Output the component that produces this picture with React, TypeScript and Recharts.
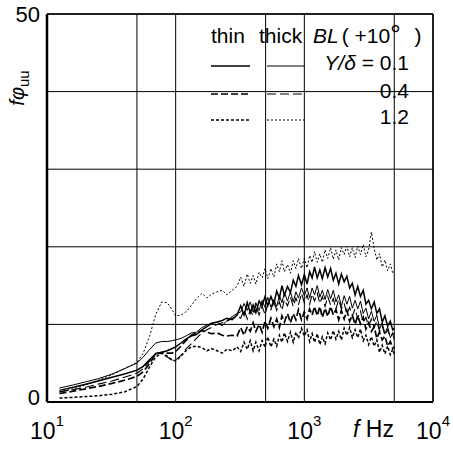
import { LineChart, Line, XAxis, YAxis, CartesianGrid, Legend, ReferenceLine } from 'recharts'

// frequency grid (Hz) shared by all six spectra
const FREQ = [
  12.5, 16, 20, 25, 32, 40, 50, 56, 63, 70,
  78, 86, 94, 100, 110, 120, 132, 145, 160, 175,
  190, 210, 230, 250, 275, 300,
  320, 340, 360, 380, 400, 420, 445, 470, 495, 520,
  550, 580, 610, 640, 670, 700, 740, 780, 820, 860,
  900, 950, 1000, 1050, 1100, 1150, 1200, 1260, 1320, 1380,
  1450, 1520, 1600, 1680, 1760, 1850, 1940, 2040, 2140, 2250,
  2360, 2480, 2600, 2730, 2870, 3010, 3160, 3320, 3490, 3660,
  3840, 4030, 4230, 4440, 4660, 4860, 5000,
]

// thin BL, Y/delta = 0.1
const THIN_01 = [
  1.5, 1.9, 2.3, 2.7, 3.2, 3.6, 4.1, 4.6, 5.5, 6.2,
  6.4, 6.6, 6.9, 7.1, 7.6, 8.1, 8.5, 8.7, 9.3, 9.7,
  10.1, 10.3, 10.5, 10.8, 10.6, 11.2,
  12.4, 11.2, 12.8, 11.5, 12.5, 11.5, 13.0, 12.4, 13.6, 12.4,
  13.6, 12.6, 14.3, 13.4, 15.0, 13.8, 14.9, 14.1, 15.7, 14.9,
  16.3, 15.1, 16.4, 15.2, 16.8, 16.0, 17.4, 16.0, 17.0, 15.9,
  17.3, 16.1, 17.2, 15.7, 16.6, 15.2, 16.5, 15.5, 16.2, 14.7,
  15.3, 13.8, 14.9, 13.6, 14.4, 12.6, 13.1, 12.0, 12.9, 11.4,
  12.0, 10.3, 11.1, 9.8, 10.4, 9.3, 9.5,
]

// thick BL, Y/delta = 0.1
const THICK_01 = [
  1.8, 2.2, 2.6, 3.0, 3.6, 4.3, 5.0, 5.8, 6.8, 7.6,
  7.8, 7.8, 7.9, 8.0, 8.2, 8.5, 8.9, 9.0, 9.6, 9.9,
  10.2, 10.3, 9.8, 10.5, 11.0, 11.4,
  11.6, 12.7, 11.8, 12.9, 11.6, 12.8, 11.8, 13.1, 12.2, 13.5,
  12.2, 13.2, 12.3, 13.7, 12.8, 14.1, 13.0, 14.2, 12.9, 14.2,
  13.4, 14.7, 13.7, 14.7, 13.4, 14.7, 13.8, 15.0, 13.5, 14.4,
  13.2, 14.5, 13.3, 14.4, 12.9, 13.8, 12.3, 13.7, 12.6, 13.6,
  12.1, 13.1, 12.0, 13.0, 11.4, 12.1, 10.7, 11.7, 10.4, 11.2,
  9.4, 10.2, 8.8, 9.7, 8.3, 8.8, 8.0,
]

// thin BL, Y/delta = 0.4
const THIN_04 = [
  1.1, 1.4, 1.7, 2.0, 2.4, 2.8, 3.3, 3.9, 5.0, 6.2,
  6.4, 6.3, 6.3, 6.5, 7.2, 7.9, 8.6, 8.9, 9.2, 9.0,
  8.8, 8.9, 8.6, 8.5, 8.6, 8.5,
  9.6, 8.6, 9.7, 9.1, 10.2, 9.1, 10.0, 9.0, 10.4, 9.5,
  10.8, 9.7, 10.7, 9.6, 11.1, 10.3, 11.4, 10.2, 11.4, 10.6,
  11.9, 10.6, 11.6, 10.7, 12.0, 11.2, 12.3, 11.1, 12.3, 10.9,
  12.1, 11.0, 12.3, 11.2, 11.9, 10.6, 11.8, 10.7, 11.8, 10.4,
  11.2, 10.0, 11.1, 10.1, 10.9, 9.4, 10.2, 9.1, 9.7, 8.2,
  9.0, 8.0, 8.5, 7.2, 7.8, 6.9, 7.1,
]

// thick BL, Y/delta = 0.4
const THICK_04 = [
  1.3, 1.6, 1.9, 2.3, 2.7, 3.2, 3.7, 4.3, 5.3, 6.3,
  6.2, 5.8, 5.4, 5.4, 6.0, 6.8, 7.5, 8.2, 8.9, 9.3,
  9.6, 10.0, 10.2, 10.4, 10.8, 11.0,
  10.8, 11.9, 10.7, 11.8, 11.1, 12.5, 11.2, 12.3, 11.3, 12.6,
  11.9, 13.0, 11.8, 12.9, 11.8, 13.2, 12.4, 13.5, 12.3, 13.4,
  12.5, 14.0, 12.8, 13.8, 12.6, 13.9, 13.0, 14.0, 12.7, 13.6,
  12.3, 13.6, 12.5, 13.3, 12.0, 13.2, 12.0, 12.7, 11.3, 12.2,
  11.1, 12.0, 10.8, 11.7, 10.3, 10.9, 9.8, 10.7, 9.6, 10.4,
  9.1, 9.8, 8.6, 9.3, 8.4, 8.9, 8.7,
]

// thin BL, Y/delta = 1.2
const THIN_12 = [
  0.5, 0.6, 0.7, 0.8, 1.0, 1.3, 2.0, 3.0, 4.6, 5.8,
  6.3, 5.9, 5.4, 5.3, 5.9, 6.6, 7.1, 7.2, 7.0, 6.6,
  6.9, 6.6, 6.3, 6.8, 6.6, 7.1,
  6.5, 7.7, 6.8, 7.9, 6.6, 7.7, 6.6, 7.9, 7.1, 8.4,
  7.1, 8.1, 7.2, 8.6, 7.7, 8.9, 7.8, 9.0, 7.7, 9.0,
  8.2, 9.5, 8.5, 9.3, 7.8, 8.8, 7.7, 8.8, 7.4, 8.4,
  7.5, 8.9, 8.0, 9.2, 8.1, 9.1, 8.0, 9.5, 8.6, 9.6,
  8.3, 9.3, 8.3, 9.4, 7.9, 8.6, 7.4, 8.4, 7.2, 8.0,
  6.4, 7.3, 6.2, 7.2, 6.1, 6.8, 6.2,
]

// thick BL, Y/delta = 1.2
const THICK_12 = [
  1.3, 1.7, 2.2, 2.8, 3.5, 4.3, 5.1, 6.3, 8.6, 11.3,
  12.9, 12.8, 11.9, 11.1, 11.2, 11.6, 12.4, 13.3, 14.0, 13.4,
  13.9, 14.2, 14.4, 13.8, 14.4, 14.9,
  16.1, 14.9, 16.5, 15.3, 16.3, 15.2, 16.7, 16.0, 17.2, 15.9,
  17.2, 16.1, 17.8, 16.8, 18.2, 16.8, 17.7, 16.6, 18.2, 17.2,
  18.5, 17.2, 18.5, 17.3, 18.9, 18.0, 19.4, 18.0, 19.1, 18.0,
  19.6, 18.5, 19.9, 18.4, 19.6, 18.3, 19.9, 19.0, 20.1, 18.7,
  19.9, 18.6, 20.1, 19.0, 20.3, 18.7, 19.6, 21.9, 19.8, 18.3,
  19.1, 17.4, 18.3, 16.9, 17.8, 16.6, 16.8,
]

const X_TICKS = [10, 50, 100, 500, 1000, 5000, 10000]
const Y_TICKS = [0, 10, 20, 30, 40, 50]
const Y_LABELLED = [0, 50]
const Y_DELTA = ['0.1', '0.4', '1.2']

const SERIES = [
  { key: 'thin01', values: THIN_01, width: 1.5, dash: undefined },
  { key: 'thick01', values: THICK_01, width: 1.0, dash: undefined },
  { key: 'thin04', values: THIN_04, width: 1.7, dash: '7 3' },
  { key: 'thick04', values: THICK_04, width: 1.1, dash: '9 4' },
  { key: 'thin12', values: THIN_12, width: 1.5, dash: '3 2' },
  { key: 'thick12', values: THICK_12, width: 1.0, dash: '2 2' },
]

const data = FREQ.map((f, i) => {
  const row: any = { f }
  SERIES.forEach(s => { row[s.key] = s.values[i] })
  return row
})

const XTick = ({ x, y, payload }: any) => {
  const p = Math.round(Math.log10(payload.value))
  if (Math.pow(10, p) !== payload.value) return <g />
  return (
    <text x={x} y={y + 35} textAnchor="middle" fontSize={23} fill="#000">
      10<tspan dy={-13} fontSize={15}>{p}</tspan>
    </text>
  )
}

const YTick = ({ x, y, payload }: any) => {
  if (!Y_LABELLED.includes(payload.value)) return <g />
  return (
    <text x={x} y={y} dy={payload.value === 0 ? 3 : 8} textAnchor="end" fontSize={22} fill="#000">
      {payload.value}
    </text>
  )
}

const YLabel = ({ viewBox }: any) => (
  <text transform={`translate(${viewBox.x + 24},${viewBox.y + 74}) rotate(-90)`} textAnchor="middle" fontSize={20} fill="#000">
    <tspan fontStyle="italic">fφ</tspan>
    <tspan dy={5} fontSize={15}>uu</tspan>
  </text>
)

const XLabel = ({ viewBox }: any) => (
  <text x={viewBox.x + 306} y={viewBox.y + 35} fontSize={23} fill="#000">
    <tspan fontStyle="italic">f</tspan> Hz
  </text>
)

function LegendBox() {
  const rowY = [66, 94, 120]
  return (
    <svg width={453} height={140} style={{ display: 'block', fontFamily: '"Liberation Sans", Arial, sans-serif' }}>
      <text x={211} y={43} fontSize={21} fill="#000">thin</text>
      <text x={259} y={43} fontSize={21} fill="#000">thick</text>
      <text x={313} y={43} fontSize={21} fill="#000">
        <tspan fontStyle="italic">BL</tspan>
        <tspan dx={3}>( +10</tspan>
        <tspan fontSize={26}>°</tspan>
        <tspan dx={14}>)</tspan>
      </text>
      {Y_DELTA.map((label, i) => {
        const thin = SERIES[i * 2]
        const thick = SERIES[i * 2 + 1]
        return (
          <g key={label}>
            <line x1={211} x2={250} y1={rowY[i]} y2={rowY[i]} stroke="#000" strokeWidth={thin.width} strokeDasharray={thin.dash} />
            <line x1={267} x2={305} y1={rowY[i]} y2={rowY[i]} stroke="#000" strokeWidth={thick.width} strokeDasharray={thick.dash} />
            <text x={409} y={rowY[i] + 4} textAnchor="end" fontSize={21} fill="#000">
              {i === 0 && <tspan fontStyle="italic">Y/δ</tspan>}
              {i === 0 ? ' = ' : ''}{label}
            </text>
          </g>
        )
      })}
    </svg>
  )
}

export default function App() {
  return (
    <div style={{ position: 'absolute', left: 0, top: 0, fontFamily: '"Liberation Sans", Arial, sans-serif' }}>
      <LineChart width={453} height={449} data={data} margin={{ top: 14, right: 20, bottom: 0, left: 0 }}>
        <CartesianGrid stroke="#000" strokeWidth={1} />
        <XAxis
          dataKey="f"
          type="number"
          scale="log"
          domain={[10, 10000]}
          ticks={X_TICKS}
          interval={0}
          tick={<XTick />}
          tickLine={false}
          tickSize={0}
          axisLine={{ stroke: '#000', strokeWidth: 2 }}
          height={47}
          label={(props: any) => <XLabel {...props} />}
        />
        <YAxis
          type="number"
          domain={[0, 50]}
          ticks={Y_TICKS}
          interval={0}
          tick={<YTick />}
          tickLine={false}
          tickSize={0}
          tickMargin={7}
          axisLine={{ stroke: '#000', strokeWidth: 2.5 }}
          width={47}
          label={(props: any) => <YLabel {...props} />}
        />
        <ReferenceLine y={50} stroke="#000" strokeWidth={1.5} />
        <ReferenceLine x={10000} stroke="#000" strokeWidth={1.5} />
        <Legend
          layout="horizontal"
          verticalAlign="middle"
          align="center"
          content={() => <LegendBox />}
          wrapperStyle={{ position: 'absolute', left: 0, top: 0, width: 453, height: 140, pointerEvents: 'none' }}
        />
        {SERIES.map(s => (
          <Line
            key={s.key}
            dataKey={s.key}
            type="linear"
            stroke="#000"
            strokeWidth={s.width}
            strokeDasharray={s.dash}
            dot={false}
            activeDot={false}
            isAnimationActive={false}
          />
        ))}
      </LineChart>
    </div>
  )
}
